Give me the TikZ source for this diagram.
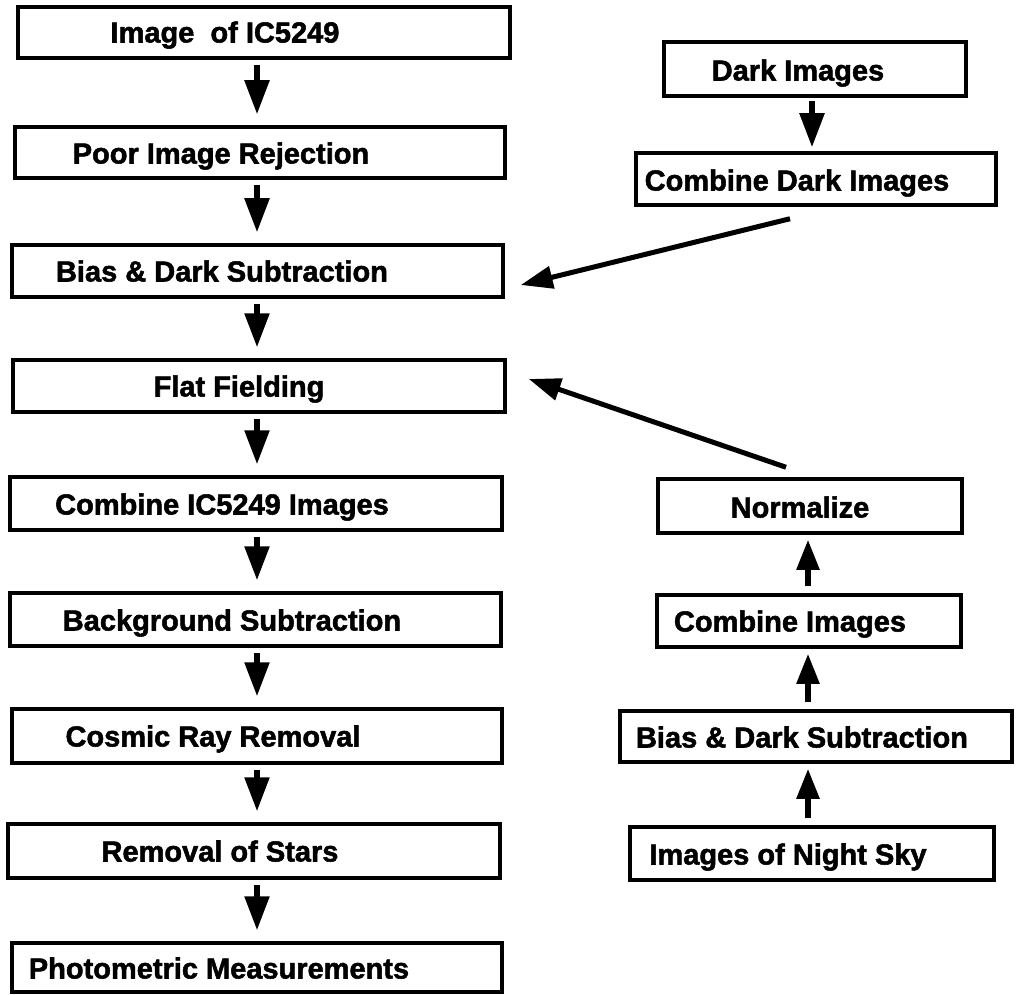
\documentclass[tikz,border=0pt]{standalone}
\usepackage{fontspec}
\newfontfamily\lblfont{Liberation Sans Bold}[FakeBold=1.8]
\usetikzlibrary{arrows.meta,fit}
\tikzset{
  box/.style={draw, line width=3.5pt, inner sep=0pt, fit={#1}},
  lbl/.style={font=\lblfont\fontsize{29}{32}\selectfont, inner sep=0pt, text height=21pt, text depth=0pt},
  arr/.style={line width=5.5pt, -{Triangle[width=24pt,length=34pt]}},
  uarr/.style={line width=5.5pt, -{Triangle[width=22pt,length=30pt]}},
  darr/.style={line width=5pt, -{Triangle[width=22pt,length=32pt]}}
}
\begin{document}
\begin{tikzpicture}[x=1pt,y=-1pt]
\useasboundingbox (0,0) rectangle (1034,995);
% left column
\node[box={(18,7)(510,58)}] (b1) {};
\node[box={(15,127)(505,178)}] (b2) {};
\node[box={(12,245)(503,297)}] (b3) {};
\node[box={(13,360)(505,412)}] (b4) {};
\node[box={(10,477)(502,530)}] (b5) {};
\node[box={(10,593)(501,646)}] (b6) {};
\node[box={(12,709)(502,763)}] (b7) {};
\node[box={(8,824)(500,878)}] (b8) {};
\node[box={(12,943)(502,992)}] (b9) {};
\node[lbl] (t1) at (225,32) {Image\ \ of IC5249};
\node[lbl] (t2) at (221,153) {Poor Image Rejection};
\node[lbl] (t3) at (222,271) {Bias \& Dark Subtraction};
\node[lbl] (t4) at (239,386) {Flat Fielding};
\node[lbl] (t5) at (222,504) {Combine IC5249 Images};
\node[lbl] (t6) at (232,620) {Background Subtraction};
\node[lbl] (t7) at (213,736) {Cosmic Ray Removal};
\node[lbl] (t8) at (220,851) {Removal of Stars};
\node[lbl] (t9) at (219,968) {Photometric Measurements};
% right column
\node[box={(664,42)(966,96)}] (r1) {};
\node[box={(636,153)(996,205)}] (r2) {};
\node[box={(658,479)(962,533)}] (r3) {};
\node[box={(657,595)(961,647)}] (r4) {};
\node[box={(620,711)(1012,762)}] (r5) {};
\node[box={(630,827)(994,880)}] (r6) {};
\node[lbl] (s1) at (798,70) {Dark Images};
\node[lbl] (s2) at (797,180) {Combine Dark Images};
\node[lbl] (s3) at (800,507) {Normalize};
\node[lbl] (s4) at (790,621) {Combine Images};
\node[lbl] (s5) at (802,737) {Bias \& Dark Subtraction};
\node[lbl] (s6) at (788,854) {Images of Night Sky};
% left arrows
\foreach \a/\b in {b1/b2,b2/b3,b3/b4,b4/b5,b5/b6,b6/b7,b7/b8,b8/b9}
  \draw[arr, shorten <=5pt, shorten >=11pt] (257,0 |- \a.south) -- (257,0 |- \b.north);
% right arrows
\draw[arr, shorten <=3pt, shorten >=4pt] (812,0 |- r1.south) -- (812,0 |- r2.north);
\foreach \a/\b in {r4/r3,r5/r4,r6/r5}
  \draw[uarr, shorten <=7pt, shorten >=5pt] (808,0 |- \a.north) -- (808,0 |- \b.south);
% diagonal arrows
\draw[darr] ([shift={(-26,12)}]r2.south) -- ([shift={(16,14)}]b3.east);
\draw[darr] ([shift={(-24,-10)}]r3.north) -- ([shift={(22,-7)}]b4.east);
\end{tikzpicture}
\end{document}
